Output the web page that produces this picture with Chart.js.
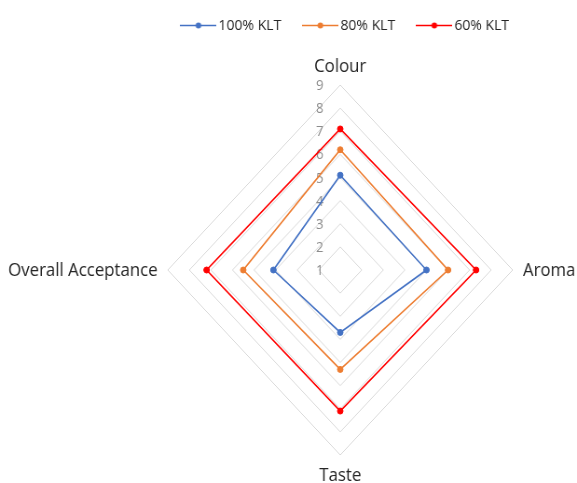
<!DOCTYPE html>
<html>
<head>
<meta charset="utf-8">
<script src="https://cdn.jsdelivr.net/npm/chart.js@4/dist/chart.umd.min.js"></script>
<style>
  html, body { margin: 0; padding: 0; background: #ffffff; overflow: hidden; }
  canvas { display: block; }
</style>
</head>
<body>
<!-- drawn 619 wide and shown at 577 so the radar grid comes out as a slightly narrow diamond -->
<canvas id="sensory" width="619" height="483" style="width:577px;height:483px"></canvas>
<script>
// Sensory attributes (radar axes)
const attributes = ['Colour', 'Aroma', 'Taste', 'Overall Acceptance'];
// Series names
const seriesNames = ['100% KLT', '80% KLT', '60% KLT'];
// Mean hedonic scores per attribute
const klt100 = [5.1, 5.0, 3.7, 4.1];
const klt80  = [6.2, 6.0, 5.3, 5.5];
const klt60  = [7.1, 7.3, 7.1, 7.2];
// Scale tick labels
const scaleTicks = [1, 2, 3, 4, 5, 6, 7, 8, 9];

const seriesColors = ['#4472C4', '#ED7D31', '#FF0000'];
const FONT = '"Open Sans", "DejaVu Sans", sans-serif';

// Line-with-marker swatch used as the legend symbol
function legendSwatch(color) {
  const c = document.createElement('canvas');
  c.width = 39; c.height = 9;
  const g = c.getContext('2d');
  g.strokeStyle = color; g.lineWidth = 1.6;
  g.beginPath(); g.moveTo(0, 4.5); g.lineTo(39, 4.5); g.stroke();
  g.fillStyle = color;
  g.beginPath(); g.arc(19.5, 4.5, 3, 0, Math.PI * 2); g.fill();
  return c;
}

// Value labels (1..9) placed just left of the vertical axis
const valueLabels = {
  id: 'valueLabels',
  beforeDatasetsDraw(chart) {
    const r = chart.scales.r, ctx = chart.ctx;
    ctx.save();
    ctx.font = '14px ' + FONT;
    ctx.fillStyle = '#8c8c8c';
    ctx.textAlign = 'right';
    ctx.textBaseline = 'alphabetic';
    scaleTicks.forEach(v => {
      const y = r.yCenter - r.getDistanceFromCenterForValue(v);
      ctx.fillText(String(v), r.xCenter - 18, y + 5);
    });
    ctx.restore();
  }
};

// Attribute names around the outer ring
const axisNames = {
  id: 'axisNames',
  afterDatasetsDraw(chart) {
    const r = chart.scales.r, ctx = chart.ctx;
    ctx.save();
    ctx.font = '18px ' + FONT;
    ctx.fillStyle = '#262626';
    ctx.textBaseline = 'alphabetic';
    attributes.forEach((name, i) => {
      const a = r.getIndexAngle(i);
      const s = Math.sin(a), c = Math.cos(a);
      if (c > 0.5) {            // top
        const p = r.getPointPosition(i, r.drawingArea + 13);
        ctx.textAlign = 'center';
        ctx.fillText(name, p.x, p.y);
      } else if (c < -0.5) {    // bottom
        const p = r.getPointPosition(i, r.drawingArea + 26);
        ctx.textAlign = 'center';
        ctx.fillText(name, p.x, p.y);
      } else {
        const p = r.getPointPosition(i, r.drawingArea + 11);
        ctx.textAlign = s > 0 ? 'left' : 'right';
        ctx.fillText(name, p.x, p.y + 6);
      }
    });
    ctx.restore();
  }
};

const series = [klt100, klt80, klt60];

new Chart(document.getElementById('sensory'), {
  type: 'radar',
  data: {
    labels: attributes,
    datasets: seriesNames.map((name, i) => ({
      label: name,
      data: series[i],
      borderColor: seriesColors[i],
      backgroundColor: seriesColors[i],
      pointBackgroundColor: seriesColors[i],
      pointBorderColor: seriesColors[i],
      borderWidth: 1.6,
      pointRadius: 3,
      pointBorderWidth: 1,
      fill: false,
      tension: 0
    }))
  },
  options: {
    responsive: false,
    animation: false,
    events: [],
    layout: { padding: { top: -10, left: 126 } },
    plugins: {
      tooltip: { enabled: false },
      legend: {
        position: 'top',
        labels: {
          usePointStyle: true,
          pointStyleWidth: 28,
          padding: 28,
          color: '#262626',
          font: { family: FONT, size: 15 },
          generateLabels(chart) {
            const items = Chart.defaults.plugins.legend.labels.generateLabels(chart);
            items.forEach((it, i) => { it.pointStyle = legendSwatch(seriesColors[i]); });
            return items;
          }
        }
      }
    },
    scales: {
      r: {
        min: 1,
        max: 9,
        ticks: { display: false, stepSize: 1 },
        grid: { color: '#d9d9d9', lineWidth: 1 },
        angleLines: { display: false },
        pointLabels: { display: false },
        afterFit(scale) {
          scale.xCenter = 365;
          scale.yCenter = 270;
          scale.drawingArea = 185;
        }
      }
    }
  },
  plugins: [valueLabels, axisNames]
});
</script>
</body>
</html>
